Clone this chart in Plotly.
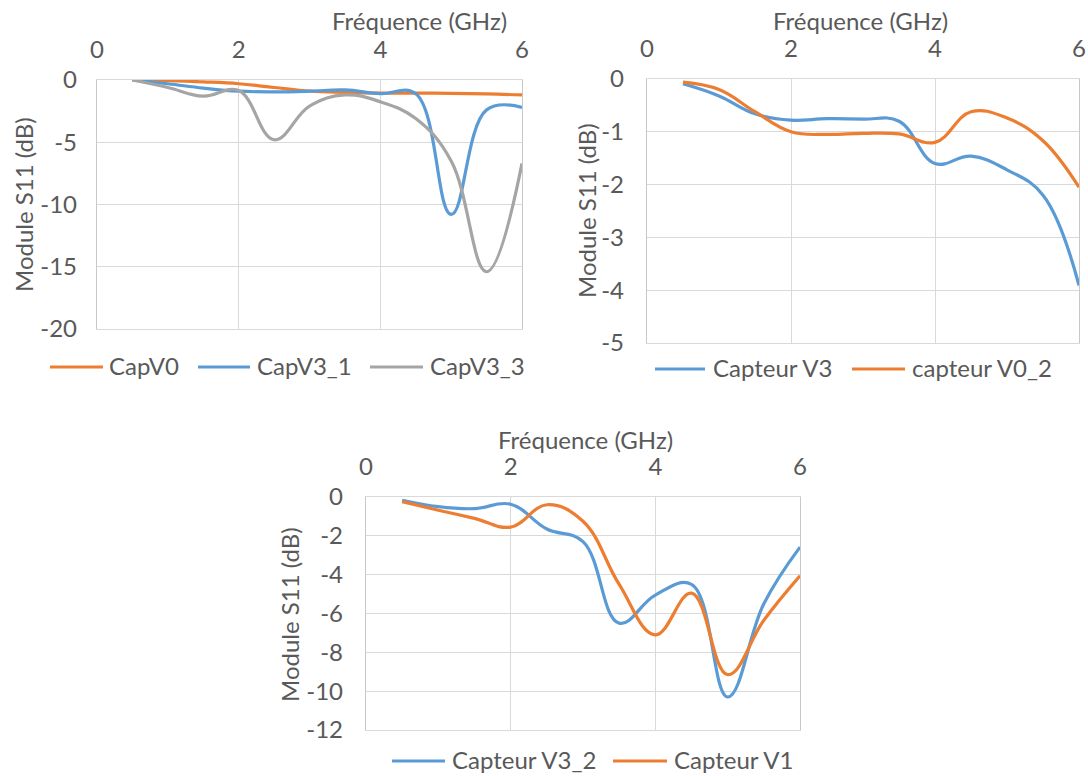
import plotly.graph_objects as go

# Frequency sweep points (GHz)
FREQ = [0.5, 1.0, 1.5, 2.0, 2.5, 3.0, 3.5, 4.0, 4.5, 5.0, 5.5, 6.0]

# Panel 1: S11 (dB)
CAPV0 = [0, -0.05, -0.15, -0.3, -0.6, -0.9, -1.0, -1.05, -1.05, -1.08, -1.12, -1.2]
CAPV3_1 = [0, -0.3, -0.65, -0.9, -0.95, -0.9, -0.8, -1.1, -1.1, -10.8, -2.4, -2.2]
CAPV3_3 = [0, -0.6, -1.3, -0.85, -4.8, -2.1, -1.2, -1.75, -3.1, -6.5, -15.4, -6.7]

# Panel 2: S11 (dB)
CAPTEUR_V3 = [-0.09, -0.32, -0.66, -0.78, -0.75, -0.76, -0.8, -1.6, -1.46, -1.72, -2.2, -3.91]
CAPTEUR_V0_2 = [-0.06, -0.2, -0.62, -1.0, -1.05, -1.03, -1.04, -1.2, -0.62, -0.74, -1.17, -2.05]

# Panel 3: S11 (dB)
CAPTEUR_V3_2 = [-0.17, -0.5, -0.6, -0.37, -1.65, -2.3, -6.5, -5.05, -4.5, -10.3, -5.5, -2.58]
CAPTEUR_V1 = [-0.24, -0.68, -1.1, -1.55, -0.4, -1.25, -4.5, -7.1, -4.95, -9.15, -6.35, -4.06]

X_TICKS = [0, 2, 4, 6]
Y_TICKS_1 = [0, -5, -10, -15, -20]
Y_TICKS_2 = [0, -1, -2, -3, -4, -5]
Y_TICKS_3 = [0, -2, -4, -6, -8, -10, -12]

X_TITLE = "Fréquence (GHz)"
Y_TITLE = "Module S11 (dB)"

ORANGE = "#ED7D31"
BLUE = "#5B9BD5"
GRAY = "#A5A5A5"
TEXT = "#595959"
GRID = "#D9D9D9"
FONT = "Lato"
FS = 24

W, H = 1088, 776


def px(x):
    return x / W


def py(y):
    return 1 - y / H


fig = go.Figure()

panels = [
    # (axis suffix, series, y ticks, box [x0, x1, ytop, ybottom], y standoff)
    ("", [("CapV0", CAPV0, ORANGE), ("CapV3_1", CAPV3_1, BLUE), ("CapV3_3", CAPV3_3, GRAY)],
     Y_TICKS_1, (97, 522, 80, 329), 14),
    ("2", [("Capteur V3", CAPTEUR_V3, BLUE), ("capteur V0_2", CAPTEUR_V0_2, ORANGE)],
     Y_TICKS_2, (647, 1079, 79, 343), 17),
    ("3", [("Capteur V3_2", CAPTEUR_V3_2, BLUE), ("Capteur V1", CAPTEUR_V1, ORANGE)],
     Y_TICKS_3, (366, 800, 497, 730), 17),
]

layout_axes = {}
for suffix, series, yticks, (x0, x1, yt, yb), ystand in panels:
    for name, vals, color in series:
        fig.add_trace(go.Scatter(
            x=FREQ, y=vals, name=name, mode="lines",
            line=dict(color=color, width=3.2, shape="spline", smoothing=1.15),
            xaxis="x" + suffix, yaxis="y" + suffix, showlegend=False,
        ))
    layout_axes["xaxis" + suffix] = dict(
        domain=[px(x0), px(x1)], anchor="y" + suffix, side="top",
        range=[0, 6], tickvals=X_TICKS, ticktext=[str(v) for v in X_TICKS],
        showgrid=True, gridcolor=GRID, gridwidth=1.4,
        showline=True, linecolor=GRID, linewidth=1.4, mirror=True,
        zeroline=False, ticks="", ticklabelstandoff=11, automargin=False,
        tickfont=dict(family=FONT, size=FS, color=TEXT),
    )
    layout_axes["yaxis" + suffix] = dict(
        domain=[py(yb), py(yt)], anchor="x" + suffix,
        range=[min(yticks), 0], tickvals=yticks, ticktext=[str(v) for v in yticks],
        showgrid=True, gridcolor=GRID, gridwidth=1.4,
        showline=True, linecolor="#C8C8C8", linewidth=1.4, mirror=True,
        zeroline=False, ticks="", ticklabelstandoff=ystand, automargin=False,
        tickfont=dict(family=FONT, size=FS, color=TEXT),
    )

annotations = []
shapes = []

# Axis titles
for cx, cy in [(419, 20), (860, 20), (585, 439)]:
    annotations.append(dict(
        x=px(cx), y=py(cy), xref="paper", yref="paper", text=X_TITLE,
        showarrow=False, xanchor="center", yanchor="middle",
        font=dict(family=FONT, size=FS, color=TEXT),
    ))
for cx, cy in [(24, 205), (587, 211), (289, 615)]:
    annotations.append(dict(
        x=px(cx), y=py(cy), xref="paper", yref="paper", text=Y_TITLE,
        textangle=-90, showarrow=False, xanchor="center", yanchor="middle",
        font=dict(family=FONT, size=FS, color=TEXT),
    ))

# Legend keys: (line start, line end, text start, y, label, colour)
legend_items = [
    (50, 103, 107, 367, "CapV0", ORANGE),
    (198, 250, 255, 367, "CapV3_1", BLUE),
    (370, 423, 428, 367, "CapV3_3", GRAY),
    (655, 705, 711, 369, "Capteur V3", BLUE),
    (852, 905, 910, 369, "capteur V0_2", ORANGE),
    (392, 445, 450, 761, "Capteur V3_2", BLUE),
    (613, 667, 672, 761, "Capteur V1", ORANGE),
]
for lx0, lx1, tx, ly, label, color in legend_items:
    shapes.append(dict(
        type="line", xref="paper", yref="paper",
        x0=px(lx0), x1=px(lx1), y0=py(ly), y1=py(ly),
        line=dict(color=color, width=3.2),
    ))
    annotations.append(dict(
        x=px(tx), y=py(ly - 2), xref="paper", yref="paper", text=label,
        showarrow=False, xanchor="left", yanchor="middle",
        font=dict(family=FONT, size=FS, color=TEXT),
    ))

fig.update_layout(
    template="none",
    width=W, height=H, margin=dict(l=0, r=0, t=0, b=0, autoexpand=False),
    paper_bgcolor="white", plot_bgcolor="white",
    showlegend=False, annotations=annotations, shapes=shapes,
    **layout_axes,
)

fig.write_html("out.html")
